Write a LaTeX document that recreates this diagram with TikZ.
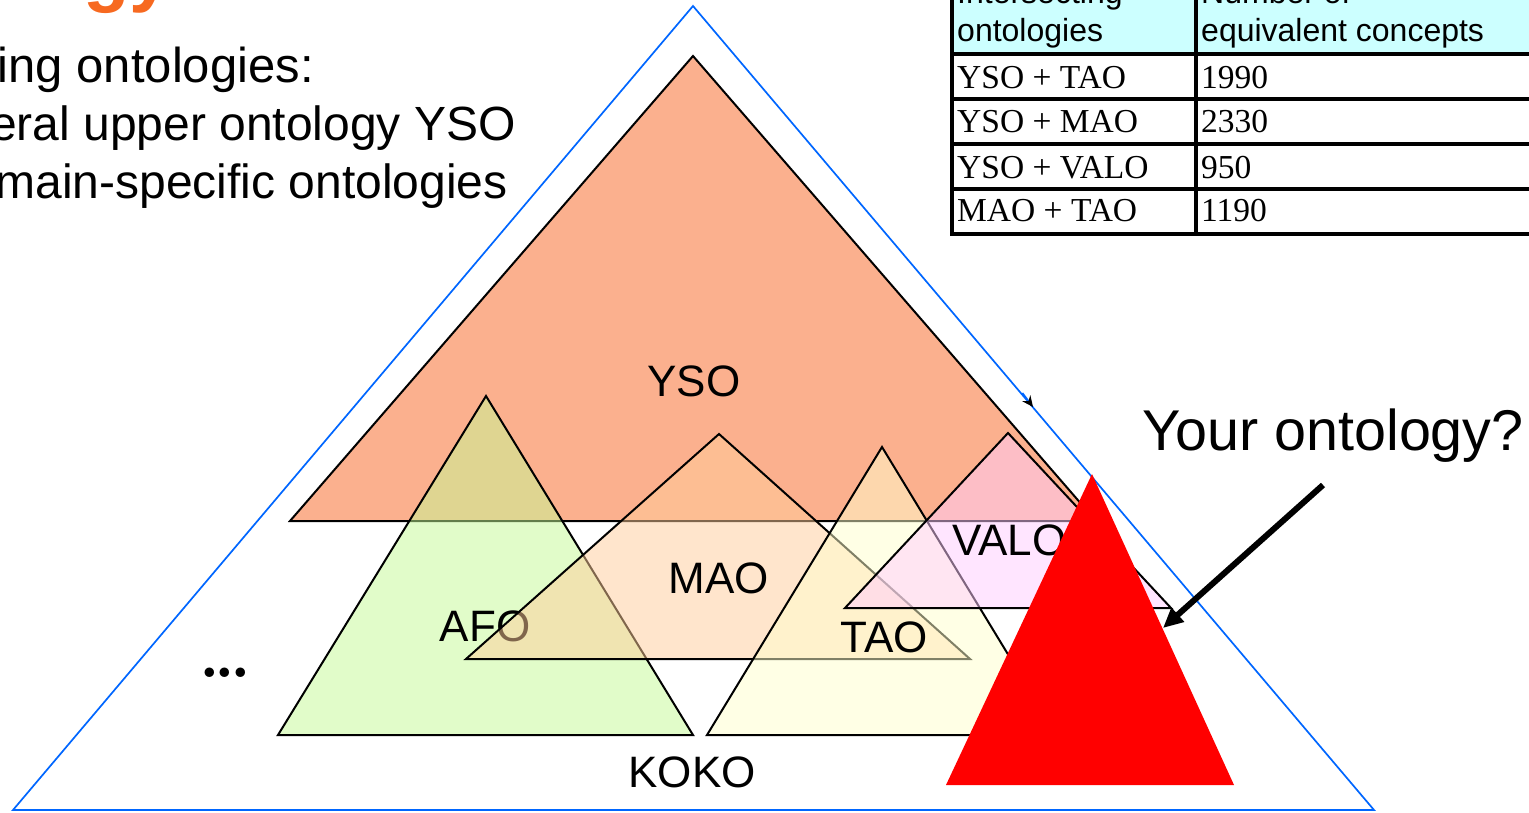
\documentclass[tikz,border=0pt]{standalone}
\usepackage{fontspec}
\setmainfont{Liberation Sans}
\newfontfamily\tnrfont{Liberation Serif}
\newfontfamily\lmfont{Latin Modern Roman}
\usetikzlibrary{arrows.meta}
\definecolor{ysoc}{RGB}{251,176,142}
\definecolor{afoc}{RGB}{196,250,148}
\definecolor{maoc}{RGB}{255,204,153}
\definecolor{taoc}{RGB}{255,255,204}
\definecolor{valoc}{RGB}{255,204,255}
\definecolor{kokoblue}{RGB}{0,102,255}
\definecolor{titleorange}{RGB}{247,105,32}
\definecolor{hdrcyan}{RGB}{204,255,255}
\begin{document}
\begin{tikzpicture}[x=1pt,y=-1pt,
  tri/.style={draw=black,line width=2pt,line join=miter},
  semi/.style={tri,fill opacity=0.5},
  lbl/.style={font=\fontsize{44}{50}\selectfont,inner sep=0pt,anchor=base},
  body/.style={font=\fontsize{48}{56}\selectfont,inner sep=0pt,anchor=base east},
  hdr/.style={font=\fontsize{32}{38}\selectfont,inner sep=0pt,anchor=base west},
  cell/.style={font=\tnrfont\fontsize{33.5}{38}\selectfont,inner sep=0pt,anchor=base west},
  grid/.style={line width=4.5pt,draw=black},
  kokoline/.style={draw=kokoblue,line width=1.7pt,line join=miter}]
\useasboundingbox (0,0) rectangle (1529,813);

% ---- title remnant and bullet text ----
\node[font=\fontsize{76}{80}\selectfont\bfseries,text=titleorange,inner sep=0pt,anchor=base west] (title) at (83,-2) {gy};
\node[body,font=\fontsize{49}{56}\selectfont] (l1) at (314,83) {ing ontologies:};
\node[body] (l2) at (516,141) {eral upper ontology YSO};
\node[body] (l3) at (508,199) {main-specific ontologies};

% ---- table ----
\fill[hdrcyan] (952,-60) rectangle (1560,54);
\draw[grid] (952,-60) -- (952,234);
\draw[grid] (1196,-60) -- (1196,234);
\foreach \yy in {54,99,144,189,234} \draw[grid] (950,\yy) -- (1560,\yy);
\node[hdr] (h1a) at (957,4) {Intersecting};
\node[hdr] (h1b) at (957,42) {ontologies};
\node[hdr] (h2a) at (1201,4) {Number of};
\node[hdr] (h2b) at (1201,42) {equivalent concepts};
\node[cell] (r1a) at (957,89) {YSO + TAO};
\node[cell] (r1b) at (1201,89) {1990};
\node[cell] (r2a) at (957,133) {YSO + MAO};
\node[cell] (r2b) at (1201,133) {2330};
\node[cell] (r3a) at (957,179) {YSO + VALO};
\node[cell] (r3b) at (1201,179) {950};
\node[cell] (r4a) at (957,222) {MAO + TAO};
\node[cell] (r4b) at (1201,222) {1190};

% ---- KOKO outer triangle ----
\coordinate (k1) at (693,6);
\coordinate (k2) at (13,810);
\coordinate (k3) at (1374,810);
\draw[kokoline] (k1) -- (k2) -- (k3) -- cycle;
\coordinate (km1) at (1022.4,393.0);
\coordinate (km2) at (1033,407);
\draw[kokoline,-{Stealth[length=11pt,width=10pt,color=black]}] (km1) -- (km2);
\node[lbl] (koko) at (692,787) {KOKO};
\node[font=\lmfont\bfseries\fontsize{66}{70}\selectfont,inner sep=0pt,anchor=base west] (dots) at (199,677) {.\kern-5pt.\kern-5pt.};

% ---- YSO ----
\coordinate (y1) at (693,56);
\coordinate (y2) at (290,521);
\coordinate (y3) at (1096,521);
\filldraw[tri,fill=ysoc] (y1) -- (y2) -- (y3) -- cycle;
\node[lbl] (yso) at (694,396) {YSO};

% ---- AFO ----
\coordinate (a1) at (486,396);
\coordinate (a2) at (278,735);
\coordinate (a3) at (693,735);
\filldraw[semi,fill=afoc] (a1) -- (a2) -- (a3) -- cycle;
\node[lbl] (afo) at (485,641) {AFO};

% ---- MAO ----
\coordinate (m1) at (719,434);
\coordinate (m2) at (466,659);
\coordinate (m3) at (970,659);
\filldraw[semi,fill=maoc] (m1) -- (m2) -- (m3) -- cycle;
\node[lbl] (mao) at (719,593) {MAO};

% ---- TAO ----
\coordinate (t1) at (882,447);
\coordinate (t2) at (707,735);
\coordinate (t3) at (1057,735);
\filldraw[semi,fill=taoc] (t1) -- (t2) -- (t3) -- cycle;
\node[lbl] (tao) at (884,652) {TAO};

% ---- VALO ----
\coordinate (v1) at (1008,433);
\coordinate (v2) at (845,608);
\coordinate (v3) at (1171,608);
\filldraw[semi,fill=valoc] (v1) -- (v2) -- (v3) -- cycle;
\node[lbl,anchor=base west] (valo) at (952,555) {VALO};

% ---- your ontology ----
\coordinate (r1) at (1092,474);
\coordinate (r2) at (946,785);
\coordinate (r3) at (1234,785);
\fill[red] (r1) -- (r2) -- (r3) -- cycle;
\node[font=\fontsize{57.5}{62}\selectfont,inner sep=0pt,anchor=base west] (your) at (1142,450) {Your ontology?};
\coordinate (arrstart) at (1323,485);
\coordinate (arrend) at (1163,628);
\draw[line width=6pt,-{Triangle[length=20pt,width=18pt]}] (arrstart) -- (arrend);
\end{tikzpicture}
\end{document}
